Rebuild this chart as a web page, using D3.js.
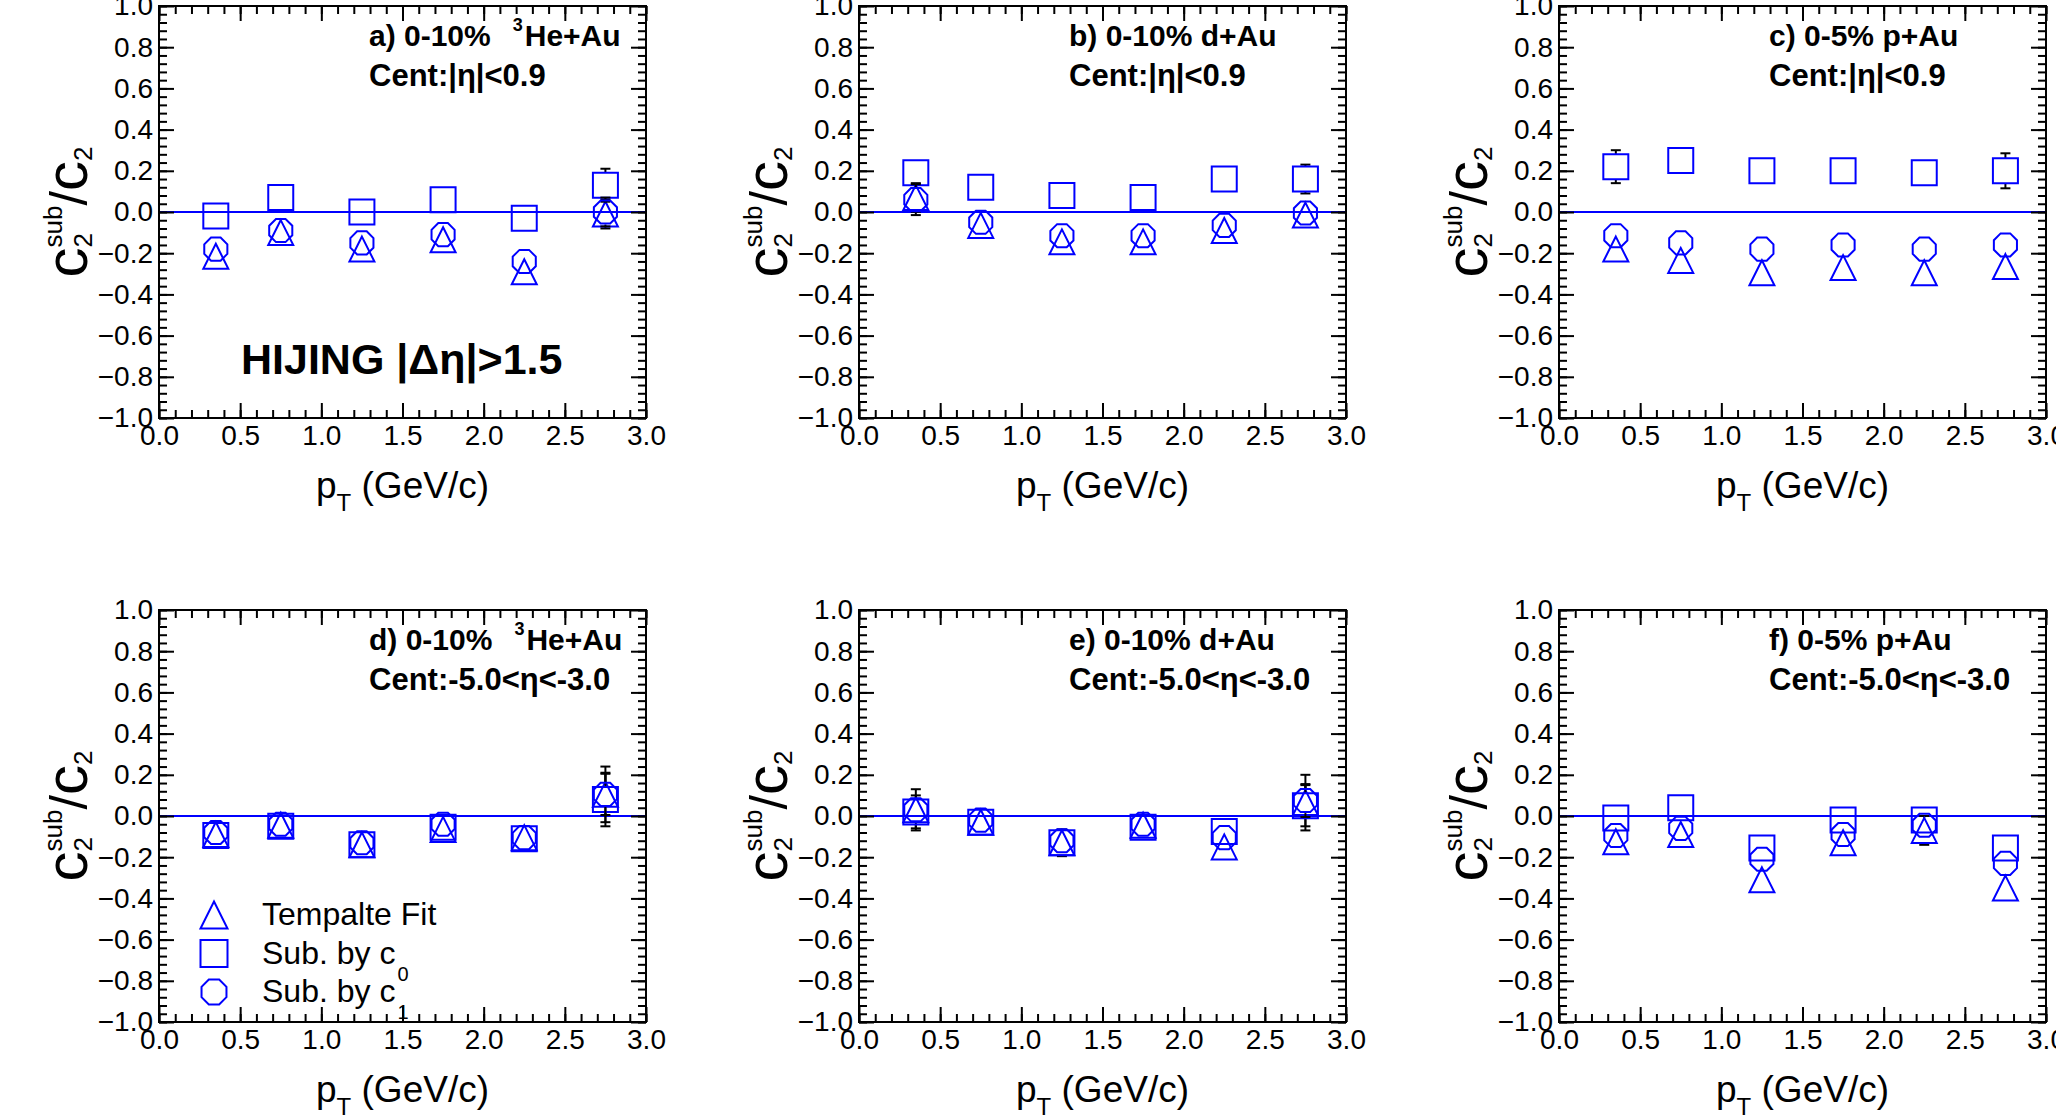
<!DOCTYPE html>
<html>
<head>
<meta charset="utf-8">
<script src="https://cdn.jsdelivr.net/npm/d3@7"></script>
<style>
  body { margin: 0; background: #fff; }
  svg text { font-family: "Liberation Sans", Arial, Helvetica, sans-serif; white-space: pre; }
</style>
</head>
<body>
<svg id="chart" width="2056" height="1115"></svg>
<script>
// ---------------- data ----------------
const ptBins = [0.35, 0.75, 1.25, 1.75, 2.25, 2.75];
const xTickValues = [0, 0.5, 1.0, 1.5, 2.0, 2.5, 3.0];
const yTickValues = [-1.0, -0.8, -0.6, -0.4, -0.2, 0.0, 0.2, 0.4, 0.6, 0.8, 1.0];

const panelTags    = ["a) 0-10%", "b) 0-10% d+Au", "c) 0-5% p+Au", "d) 0-10%", "e) 0-10% d+Au", "f) 0-5% p+Au"];
const panelHe3     = [true, false, false, true, false, false];
const panelCent    = ["Cent:|η|<0.9", "Cent:|η|<0.9", "Cent:|η|<0.9",
                      "Cent:-5.0<η<-3.0", "Cent:-5.0<η<-3.0", "Cent:-5.0<η<-3.0"];
const legendLabels = ["Tempalte Fit", "Sub. by c", "Sub. by c"];
const legendSubs   = ["", "0", "1"];

// Template fit (open triangles)
const fitA = [-0.215, -0.10, -0.18, -0.135, -0.29, -0.01];
const fitB = [0.07, -0.065, -0.145, -0.145, -0.09, -0.015];
const fitC = [-0.18, -0.235, -0.295, -0.27, -0.295, -0.265];
const fitD = [-0.09, -0.045, -0.14, -0.065, -0.105, 0.105];
const fitE = [0.03, -0.03, -0.13, -0.045, -0.15, 0.065];
const fitF = [-0.125, -0.09, -0.31, -0.13, -0.07, -0.35];
// Sub. by c0 (open squares)
const c0A = [-0.02, 0.07, 0.0, 0.06, -0.03, 0.13];
const c0B = [0.19, 0.12, 0.08, 0.07, 0.16, 0.16];
const c0C = [0.22, 0.25, 0.20, 0.20, 0.19, 0.20];
const c0D = [-0.095, -0.05, -0.14, -0.055, -0.11, 0.08];
const c0E = [0.02, -0.03, -0.13, -0.055, -0.075, 0.05];
const c0F = [-0.01, 0.04, -0.155, -0.02, -0.02, -0.155];
// Sub. by c1 (open circles)
const c1A = [-0.18, -0.09, -0.15, -0.11, -0.24, 0.0];
const c1B = [0.06, -0.05, -0.115, -0.115, -0.065, -0.005];
const c1C = [-0.115, -0.15, -0.18, -0.16, -0.18, -0.16];
const c1D = [-0.08, -0.04, -0.13, -0.04, -0.105, 0.105];
const c1E = [0.03, -0.02, -0.12, -0.04, -0.105, 0.075];
const c1F = [-0.095, -0.06, -0.21, -0.09, -0.045, -0.23];
// statistical errors
const fitErrA = [0.02, 0.02, 0.02, 0.02, 0.02, 0.07];
const fitErrB = [0.07, 0.06, 0.02, 0.02, 0.02, 0.02];
const fitErrC = [0.02, 0.02, 0.02, 0.02, 0.02, 0.02];
const fitErrD = [0.02, 0.06, 0.02, 0.02, 0.02, 0.135];
const fitErrE = [0.10, 0.02, 0.02, 0.02, 0.02, 0.135];
const fitErrF = [0.02, 0.02, 0.02, 0.02, 0.07, 0.02];
const c0ErrA = [0.02, 0.02, 0.02, 0.02, 0.02, 0.08];
const c0ErrB = [0.03, 0.02, 0.02, 0.02, 0.02, 0.07];
const c0ErrC = [0.08, 0.02, 0.02, 0.02, 0.055, 0.085];
const c0ErrD = [0.02, 0.06, 0.02, 0.02, 0.02, 0.13];
const c0ErrE = [0.08, 0.02, 0.065, 0.02, 0.02, 0.10];
const c0ErrF = [0.02, 0.02, 0.02, 0.02, 0.02, 0.02];
const c1ErrA = [0.02, 0.02, 0.02, 0.02, 0.02, 0.07];
const c1ErrB = [0.075, 0.055, 0.02, 0.02, 0.02, 0.02];
const c1ErrC = [0.02, 0.02, 0.02, 0.02, 0.02, 0.02];
const c1ErrD = [0.02, 0.05, 0.02, 0.02, 0.02, 0.10];
const c1ErrE = [0.02, 0.02, 0.02, 0.02, 0.02, 0.08];
const c1ErrF = [0.02, 0.02, 0.02, 0.02, 0.02, 0.02];

const fitSets = [fitA, fitB, fitC, fitD, fitE, fitF];
const c0Sets  = [c0A, c0B, c0C, c0D, c0E, c0F];
const c1Sets  = [c1A, c1B, c1C, c1D, c1E, c1F];
const fitErrs = [fitErrA, fitErrB, fitErrC, fitErrD, fitErrE, fitErrF];
const c0Errs  = [c0ErrA, c0ErrB, c0ErrC, c0ErrD, c0ErrE, c0ErrF];
const c1Errs  = [c1ErrA, c1ErrB, c1ErrC, c1ErrD, c1ErrE, c1ErrF];

// ---------------- layout ----------------
const W = 487, H = 412;
const colX = [159, 859, 1559];
const rowY = [6, 610];
const BLUE = "#0000ff";
const MS = 25; // marker size px

const svg = d3.select("#chart");

const symOctagon = {
  draw(ctx, size) {
    const r = Math.sqrt(size) / 2;
    for (let k = 0; k < 8; k++) {
      const a = Math.PI / 8 + k * Math.PI / 4;
      const px = r * Math.cos(a), py = r * Math.sin(a);
      if (k === 0) ctx.moveTo(px, py); else ctx.lineTo(px, py);
    }
    ctx.closePath();
  }
};
const symTriangle = {
  draw(ctx, size) {
    const r = Math.sqrt(size) / 2;
    ctx.moveTo(0, -r);
    ctx.lineTo(r, r);
    ctx.lineTo(-r, r);
    ctx.closePath();
  }
};
const symTypes = [symTriangle, d3.symbolSquare, symOctagon];

const xMinor = d3.range(0, 3.0001, 0.1);
const yMinor = d3.range(-1, 1.0001, 0.04);
const fmt = d3.format(".1f");

function styleAxis(sel) {
  sel.select(".domain").remove();
  sel.selectAll(".tick line").attr("stroke", "#000").attr("stroke-width", 2);
  sel.selectAll(".tick text").attr("font-size", 28).attr("fill", "#000");
}

for (let i = 0; i < 6; i++) {
  const gx = colX[i % 3], gy = rowY[Math.floor(i / 3)];
  const x = d3.scaleLinear().domain([0, 3]).range([0, W]);
  const y = d3.scaleLinear().domain([-1, 1]).range([H, 0]);
  const g = svg.append("g").attr("transform", `translate(${gx},${gy})`);

  // zero line
  g.append("line").attr("x1", 0).attr("x2", W).attr("y1", y(0)).attr("y2", y(0))
    .attr("stroke", BLUE).attr("stroke-width", 2);

  // axes: major + minor, all four sides, ticks inward
  g.append("g").attr("transform", `translate(0,${H})`)
    .call(d3.axisBottom(x).tickValues(xTickValues).tickSizeInner(-15).tickSizeOuter(0).tickPadding(7).tickFormat(fmt))
    .call(styleAxis);
  g.append("g").attr("transform", `translate(0,${H})`)
    .call(d3.axisBottom(x).tickValues(xMinor).tickSizeInner(-8).tickSizeOuter(0).tickFormat(""))
    .call(styleAxis);
  g.append("g")
    .call(d3.axisTop(x).tickValues(xTickValues).tickSizeInner(-15).tickSizeOuter(0).tickFormat(""))
    .call(styleAxis);
  g.append("g")
    .call(d3.axisTop(x).tickValues(xMinor).tickSizeInner(-8).tickSizeOuter(0).tickFormat(""))
    .call(styleAxis);
  g.append("g")
    .call(d3.axisLeft(y).tickValues(yTickValues).tickSizeInner(-15).tickSizeOuter(0).tickPadding(6).tickFormat(fmt))
    .call(styleAxis);
  g.append("g")
    .call(d3.axisLeft(y).tickValues(yMinor).tickSizeInner(-8).tickSizeOuter(0).tickFormat(""))
    .call(styleAxis);
  g.append("g").attr("transform", `translate(${W},0)`)
    .call(d3.axisRight(y).tickValues(yTickValues).tickSizeInner(-15).tickSizeOuter(0).tickFormat(""))
    .call(styleAxis);
  g.append("g").attr("transform", `translate(${W},0)`)
    .call(d3.axisRight(y).tickValues(yMinor).tickSizeInner(-8).tickSizeOuter(0).tickFormat(""))
    .call(styleAxis);

  g.append("rect").attr("x", 0).attr("y", 0).attr("width", W).attr("height", H)
    .attr("fill", "none").attr("stroke", "#000").attr("stroke-width", 2);

  // series
  const sets = [fitSets[i], c0Sets[i], c1Sets[i]];
  const errs = [fitErrs[i], c0Errs[i], c1Errs[i]];
  sets.forEach((vals, s) => {
    const pts = vals.map((v, k) => ({ x: ptBins[k], v, e: errs[s][k] }));
    // error bars (drawn outside the marker only)
    const eg = g.append("g").attr("stroke", "#000").attr("stroke-width", 2);
    pts.forEach(p => {
      const cx = x(p.x), cy = y(p.v);
      const top = y(p.v + p.e), bot = y(p.v - p.e);
      if (top < cy - MS / 2) {
        eg.append("line").attr("x1", cx).attr("x2", cx).attr("y1", top).attr("y2", cy - MS / 2);
        eg.append("line").attr("x1", cx - 5).attr("x2", cx + 5).attr("y1", top).attr("y2", top);
      }
      if (bot > cy + MS / 2) {
        eg.append("line").attr("x1", cx).attr("x2", cx).attr("y1", cy + MS / 2).attr("y2", bot);
        eg.append("line").attr("x1", cx - 5).attr("x2", cx + 5).attr("y1", bot).attr("y2", bot);
      }
    });
    g.append("g").selectAll("path").data(pts).join("path")
      .attr("transform", p => `translate(${x(p.x)},${y(p.v)})`)
      .attr("d", d3.symbol().type(symTypes[s]).size(MS * MS))
      .attr("fill", "none").attr("stroke", BLUE).attr("stroke-width", 2);
  });

  // panel labels
  const t1 = g.append("text").attr("x", 210).attr("y", 40)
    .attr("font-size", 30).attr("font-weight", "bold").attr("fill", "#000");
  t1.append("tspan").text(panelTags[i]);
  if (panelHe3[i]) {
    t1.append("tspan").attr("dx", 22).attr("dy", -15).attr("font-size", 18).text("3");
    t1.append("tspan").attr("dy", 15).attr("dx", 2).text("He+Au");
  }
  g.append("text").attr("x", 210).attr("y", 80)
    .attr("font-size", 31).attr("font-weight", "bold").attr("fill", "#000")
    .text(panelCent[i]);

  // x title
  const xt = g.append("text").attr("x", W / 2).attr("y", H + 80)
    .attr("text-anchor", "middle").attr("font-size", 37).attr("fill", "#000");
  xt.append("tspan").text("p");
  xt.append("tspan").attr("font-size", 24).attr("dy", 13).text("T");
  xt.append("tspan").attr("dy", -13).text(" (GeV/c)");

  // y title
  const yt = svg.append("g").attr("transform", `translate(${gx - 72},${gy + H / 2}) rotate(-90)`)
    .append("text").attr("text-anchor", "middle").attr("font-size", 60).attr("fill", "#000");
  yt.append("tspan").text("c");
  yt.append("tspan").attr("font-size", 26).attr("dy", 5).text("2");
  yt.append("tspan").attr("font-size", 26).attr("dx", -14.5).attr("dy", -30).text("sub");
  yt.append("tspan").attr("font-size", 52).attr("dy", 25).text("/");
  yt.append("tspan").text("c");
  yt.append("tspan").attr("font-size", 26).attr("dy", 5).text("2");

  if (i === 0) {
    g.append("text").attr("x", 82).attr("y", 368)
      .attr("font-size", 43).attr("font-weight", "bold").attr("fill", "#000")
      .text("HIJING |Δη|>1.5");
  }

  if (i === 3) {
    const lg = g.append("g");
    legendLabels.forEach((lab, k) => {
      const ly = 305 + k * 38.5;
      lg.append("path").attr("transform", `translate(55,${ly})`)
        .attr("d", d3.symbol().type(symTypes[k]).size(27 * 27))
        .attr("fill", "none").attr("stroke", BLUE).attr("stroke-width", 2);
      const lt = lg.append("text").attr("x", 103).attr("y", ly + 10)
        .attr("font-size", 32).attr("fill", "#000");
      lt.append("tspan").text(lab);
      if (legendSubs[k]) lt.append("tspan").attr("font-size", 20).attr("dy", 17).attr("dx", 2).text(legendSubs[k]);
    });
  }
}
</script>
</body>
</html>
